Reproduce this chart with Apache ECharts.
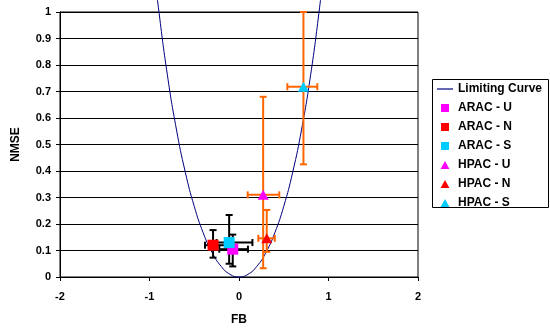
<!DOCTYPE html>
<html>
<head>
<meta charset="utf-8">
<script src="https://cdn.jsdelivr.net/npm/echarts@6/dist/echarts.min.js"></script>
<style>
html,body{margin:0;padding:0;background:#fff;}
#chart{width:550px;height:333px;}
</style>
</head>
<body>
<div id="chart"></div>
<script>
// Limiting curve points
const curveFB   = [-0.95, -0.9, -0.8, -0.7, -0.6, -0.5, -0.4, -0.3, -0.2, -0.1, 0, 0.1, 0.2, 0.3, 0.4, 0.5, 0.6, 0.7, 0.8, 0.9, 0.95];
const curveNMSE = [1.1655, 1.0157, 0.7619, 0.5584, 0.3956, 0.2667, 0.1667, 0.0921, 0.0404, 0.0100, 0, 0.0100, 0.0404, 0.0921, 0.1667, 0.2667, 0.3956, 0.5584, 0.7619, 1.0157, 1.1655];

// ARAC (squares, black error bars)
const aracNames    = ['ARAC - U', 'ARAC - N', 'ARAC - S'];
const aracFB       = [-0.07, -0.29, -0.11];
const aracNMSE     = [0.105, 0.12, 0.13];
const aracFBLow    = [-0.22, -0.38, -0.25];
const aracFBHigh   = [0.10, -0.12, 0.15];
const aracNMSELow  = [0.04, 0.073, 0.05];
const aracNMSEHigh = [0.16, 0.177, 0.234];

// HPAC (triangles, orange error bars)
const hpacNames    = ['HPAC - U', 'HPAC - N', 'HPAC - S'];
const hpacFB       = [0.27, 0.31, 0.72];
const hpacNMSE     = [0.31, 0.146, 0.718];
const hpacFBLow    = [0.097, 0.216, 0.54];
const hpacFBHigh   = [0.45, 0.40, 0.875];
const hpacNMSELow  = [0.033, 0.095, 0.425];
const hpacNMSEHigh = [0.68, 0.253, 1.0];

const markerColors = ['#FF00FF', '#FF0000', '#00CCFF'];

const chart = echarts.init(document.getElementById('chart'), null, {renderer: 'canvas'});

function errData(fb, nm, fl, fh, nl, nh) {
  return fb.map((v, i) => [v, nm[i], fl[i], fh[i], nl[i], nh[i]]);
}
function errRenderer(color) {
  return function (params, api) {
    const x = api.value(0), y = api.value(1);
    const pL = api.coord([api.value(2), y]);
    const pR = api.coord([api.value(3), y]);
    const pB = api.coord([x, api.value(4)]);
    const pT = api.coord([x, api.value(5)]);
    const c = 3.5;
    const st = {stroke: color, lineWidth: 2, fill: null};
    const ln = (x1, y1, x2, y2) => ({type: 'line', shape: {x1, y1, x2, y2}, style: st});
    return {
      type: 'group',
      children: [
        ln(pL[0], pL[1], pR[0], pR[1]),
        ln(pL[0], pL[1] - c, pL[0], pL[1] + c),
        ln(pR[0], pR[1] - c, pR[0], pR[1] + c),
        ln(pB[0], pB[1], pT[0], pT[1]),
        ln(pB[0] - c, pB[1], pB[0] + c, pB[1]),
        ln(pT[0] - c, pT[1], pT[0] + c, pT[1])
      ]
    };
  };
}

const font = 'Arial, "Liberation Sans", sans-serif';
const squarePath = 'path://M0,0L10,0L10,10L0,10Z';
const triPath = 'path://M5,0L10,9L0,9Z';
const linePath = 'path://M0,0L16,0L16,1.2L0,1.2Z';

const series = [
  {
    name: 'Limiting Curve',
    type: 'line',
    data: curveFB.map((v, i) => [v, curveNMSE[i]]),
    symbol: 'none',
    smooth: true,
    clip: false,
    lineStyle: {color: '#000080', width: 1},
    itemStyle: {color: '#000080'},
    z: 2
  },
  {
    type: 'custom',
    renderItem: errRenderer('#000000'),
    data: errData(aracFB, aracNMSE, aracFBLow, aracFBHigh, aracNMSELow, aracNMSEHigh),
    encode: {x: [0, 2, 3], y: [1, 4, 5]},
    clip: false,
    z: 3
  },
  {
    type: 'custom',
    renderItem: errRenderer('#FF6600'),
    data: errData(hpacFB, hpacNMSE, hpacFBLow, hpacFBHigh, hpacNMSELow, hpacNMSEHigh),
    encode: {x: [0, 2, 3], y: [1, 4, 5]},
    clip: false,
    z: 3
  }
];
aracNames.forEach((n, i) => {
  series.push({
    name: n, type: 'scatter', symbol: 'rect', symbolSize: 11,
    data: [[aracFB[i], aracNMSE[i]]],
    itemStyle: {color: markerColors[i], opacity: 1}, z: 5
  });
});
hpacNames.forEach((n, i) => {
  series.push({
    name: n, type: 'scatter', symbol: 'triangle', symbolSize: [11, 10],
    data: [[hpacFB[i], hpacNMSE[i]]],
    itemStyle: {color: markerColors[i], opacity: 1}, z: 5
  });
});

chart.setOption({
  animation: false,
  backgroundColor: '#fff',
  grid: {left: 60, right: 132, top: 12, bottom: 56, show: true, borderColor: '#000', borderWidth: 1, backgroundColor: 'transparent'},
  xAxis: {
    type: 'value', min: -2, max: 2, interval: 1,
    name: 'FB', nameLocation: 'middle', nameGap: 37,
    nameTextStyle: {fontFamily: font, fontWeight: 'bold', fontSize: 12, color: '#000'},
    axisLine: {show: true, onZero: false, lineStyle: {color: '#000', width: 1}},
    axisTick: {show: true, length: 4, lineStyle: {color: '#000'}},
    axisLabel: {fontFamily: font, fontWeight: 'bold', fontSize: 11, color: '#000', margin: 14},
    splitLine: {show: false}
  },
  yAxis: {
    type: 'value', min: 0, max: 1, interval: 0.1,
    name: 'NMSE', nameLocation: 'middle', nameGap: 38, nameRotate: 90,
    nameTextStyle: {fontFamily: font, fontWeight: 'bold', fontSize: 12, color: '#000'},
    axisLine: {show: true, onZero: false, lineStyle: {color: '#000', width: 1}},
    axisTick: {show: true, length: 4, lineStyle: {color: '#000'}},
    axisLabel: {fontFamily: font, fontWeight: 'bold', fontSize: 11, color: '#000', margin: 9},
    splitLine: {show: true, lineStyle: {color: '#000', width: 1}}
  },
  legend: {
    orient: 'vertical', left: 437, top: 83, padding: 0,
    itemWidth: 16, itemHeight: 8, itemGap: 7,
    symbolKeepAspect: true,
    textStyle: {fontFamily: font, fontWeight: 'bold', fontSize: 12, color: '#000', lineHeight: 12},
    data: [
      {name: 'Limiting Curve', icon: linePath},
      {name: 'ARAC - U', icon: squarePath},
      {name: 'ARAC - N', icon: squarePath},
      {name: 'ARAC - S', icon: squarePath},
      {name: 'HPAC - U', icon: triPath},
      {name: 'HPAC - N', icon: triPath},
      {name: 'HPAC - S', icon: triPath}
    ]
  },
  graphic: [{
    type: 'rect', z: 1,
    shape: {x: 432.5, y: 79.5, width: 116, height: 128},
    style: {stroke: '#000', lineWidth: 1, fill: 'none'}
  }],
  series: series
});
</script>
</body>
</html>
